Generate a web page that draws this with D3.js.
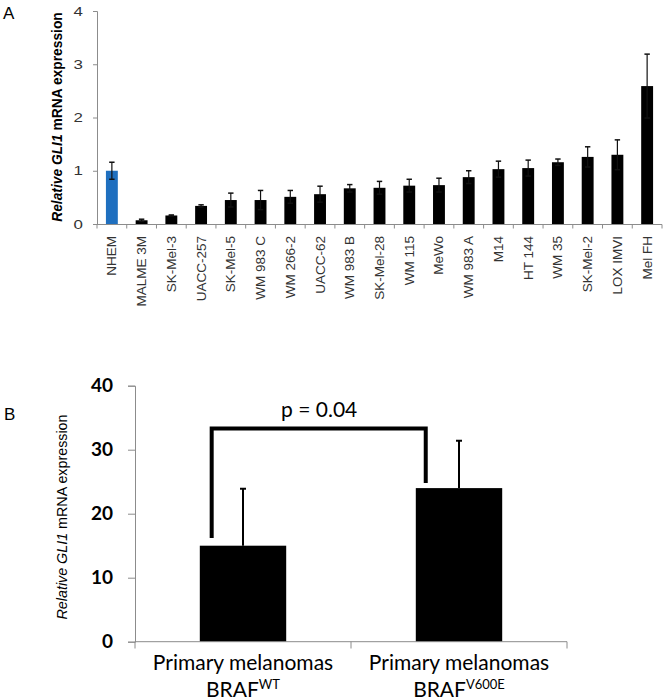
<!DOCTYPE html>
<html><head><meta charset="utf-8">
<script src="https://cdn.jsdelivr.net/npm/d3@7"></script>
<style>body{margin:0;background:#fff}svg{display:block}</style>
</head><body>
<svg id="chart" width="668" height="700"></svg>
<script>
// ---- Panel A data ----
const categoriesA = ["NHEM","MALME 3M","SK-Mel-3","UACC-257","SK-Mel-5","WM 983 C","WM 266-2","UACC-62","WM 983 B","SK-Mel-28","WM 115","MeWo","WM 983 A","M14","HT 144","WM 35","SK-Mel-2","LOX IMVI","Mel FH"];
const valuesA = [1.0,0.07,0.16,0.34,0.45,0.45,0.51,0.56,0.67,0.68,0.72,0.73,0.88,1.03,1.05,1.16,1.26,1.30,2.59];
const errorsA = [0.16,0.02,0.01,0.02,0.13,0.18,0.12,0.15,0.07,0.12,0.12,0.13,0.12,0.15,0.15,0.06,0.19,0.28,0.60];
const yTicksA = [0,1,2,3,4];

// ---- Panel B data ----
const categoriesB = ["WT","V600E"];
const valuesB = [15.0,24.0];
const errorsB = [8.9,7.4];
const yTicksB = [0,10,20,30,40];
const pValue = "p = 0.04";
const bracketB = {top:33.3, left:16.2, right:24.8};

const svg = d3.select("#chart");
const axisGray = "#8c8c8c";
const arial = "Liberation Sans, Arial, sans-serif";
const calibriLike = "Lato, 'Open Sans', sans-serif";

// ================= Panel A =================
const xA = d3.scaleBand().domain(categoriesA).range([97,662]).padding(0);
const yA = d3.scaleLinear().domain([0,4]).range([224,11]);
const gA = svg.append("g");
const barWA = xA.bandwidth()*0.4;
const cx = d => xA(d)+xA.bandwidth()/2;

gA.selectAll("rect.bar").data(categoriesA).enter().append("rect")
  .attr("x", d=>cx(d)-barWA/2)
  .attr("y", (d,i)=>yA(valuesA[i]))
  .attr("width", barWA)
  .attr("height", (d,i)=>yA(0)-yA(valuesA[i]))
  .attr("fill", (d,i)=> i===0 ? "#1f6fbf" : "#000");

const ebA = gA.selectAll("g.eb").data(categoriesA).enter().append("g");
ebA.append("line")
  .attr("x1", cx).attr("x2", cx)
  .attr("y1",(d,i)=>yA(valuesA[i]-errorsA[i])).attr("y2",(d,i)=>yA(valuesA[i]+errorsA[i]))
  .attr("stroke","#111").attr("stroke-width",1.2);
[1,-1].forEach(s=>{
  ebA.append("line")
    .attr("x1", d=>cx(d)-2.7).attr("x2", d=>cx(d)+2.7)
    .attr("y1",(d,i)=>yA(valuesA[i]+s*errorsA[i])).attr("y2",(d,i)=>yA(valuesA[i]+s*errorsA[i]))
    .attr("stroke","#111").attr("stroke-width",1.5);
});

// y axis A
const sxA = 1.3;
const yAxisA = gA.append("g").attr("transform","translate(97,0)")
  .call(d3.axisLeft(yA).tickValues(yTicksA).tickSize(4).tickPadding(10).tickFormat(d3.format("d")));
yAxisA.select(".domain").attr("stroke",axisGray);
yAxisA.selectAll(".tick line").attr("stroke",axisGray);
yAxisA.selectAll(".tick text").attr("font-family",arial).attr("font-size",13).attr("fill","#333")
  .attr("x",-14/sxA).attr("transform",`scale(${sxA},1)`);

// x axis A
gA.append("line").attr("x1",97).attr("x2",662).attr("y1",224.5).attr("y2",224.5).attr("stroke",axisGray);
const boundsA = categoriesA.map(d=>xA(d)).concat([xA.range()[1]]);
gA.selectAll("line.xt").data(boundsA).enter().append("line")
  .attr("x1",d=>d).attr("x2",d=>d).attr("y1",224.5).attr("y2",228.5).attr("stroke",axisGray);
gA.selectAll("text.xl").data(categoriesA).enter().append("text")
  .attr("transform", d=>`translate(${cx(d)+4.5},236) rotate(-90)`)
  .attr("text-anchor","end")
  .attr("font-family",arial).attr("font-size",13.5).attr("fill","#333")
  .text(d=>d);

// y title A
const tA = gA.append("text").attr("transform","translate(62,117) rotate(-90)")
  .attr("text-anchor","middle").attr("font-family",arial)
  .attr("font-size",13.8).attr("font-weight","bold").attr("fill","#000");
tA.append("tspan").attr("font-style","italic").text("Relative GLI1");
tA.append("tspan").text(" mRNA expression");

svg.append("text").attr("x",3).attr("y",19).attr("font-family",arial).attr("font-size",17).text("A");

// ================= Panel B =================
const xB = d3.scaleBand().domain(categoriesB).range([135,567]).padding(0);
const yB = d3.scaleLinear().domain([0,40]).range([641.7,385.7]);
const gB = svg.append("g");
const barWB = xB.bandwidth()*0.4;
const cxB = d => xB(d)+xB.bandwidth()/2;

gB.selectAll("rect.bar").data(categoriesB).enter().append("rect")
  .attr("x", d=>cxB(d)-barWB/2)
  .attr("y",(d,i)=>yB(valuesB[i]))
  .attr("width",barWB).attr("height",(d,i)=>yB(0)-yB(valuesB[i])).attr("fill","#000");

const ebB = gB.selectAll("g.eb").data(categoriesB).enter().append("g");
ebB.append("line")
  .attr("x1",cxB).attr("x2",cxB)
  .attr("y1",(d,i)=>yB(valuesB[i])).attr("y2",(d,i)=>yB(valuesB[i]+errorsB[i]))
  .attr("stroke","#000").attr("stroke-width",2);
ebB.append("line")
  .attr("x1",d=>cxB(d)-3).attr("x2",d=>cxB(d)+3)
  .attr("y1",(d,i)=>yB(valuesB[i]+errorsB[i])).attr("y2",(d,i)=>yB(valuesB[i]+errorsB[i]))
  .attr("stroke","#000").attr("stroke-width",2);

// y axis B
const yAxisB = gB.append("g").attr("transform","translate(135,0)")
  .call(d3.axisLeft(yB).tickValues(yTicksB).tickSize(7).tickPadding(15).tickFormat(d3.format("d")));
yAxisB.select(".domain").attr("stroke",axisGray);
yAxisB.selectAll(".tick line").attr("stroke",axisGray);
yAxisB.selectAll(".tick text").attr("font-family",calibriLike).attr("font-size",19).attr("font-weight","bold").attr("fill","#000");

// x axis B
gB.append("line").attr("x1",135).attr("x2",567).attr("y1",641.7).attr("y2",641.7).attr("stroke",axisGray);
const boundsB = categoriesB.map(d=>xB(d)).concat([xB.range()[1]]);
gB.selectAll("line.xt").data(boundsB).enter().append("line")
  .attr("x1",d=>d).attr("x2",d=>d).attr("y1",641.7).attr("y2",648.5).attr("stroke",axisGray);
const lblB = gB.selectAll("g.xl").data(categoriesB).enter().append("g")
  .attr("transform",d=>`translate(${cxB(d)},0)`);
lblB.append("text").attr("y",670).attr("text-anchor","middle")
  .attr("font-family",calibriLike).attr("font-size",21).attr("fill","#000")
  .text("Primary melanomas");
const l2 = lblB.append("text").attr("y",697).attr("text-anchor","middle")
  .attr("font-family",calibriLike).attr("font-size",21).attr("fill","#000");
l2.append("tspan").text("BRAF");
l2.append("tspan").attr("font-size",13).attr("dy",-8).text(d=>d);

// bracket
const bxL = xB(categoriesB[0]) + xB.bandwidth()*0.355;
const bxR = xB(categoriesB[1]) + xB.bandwidth()*0.346;
gB.append("path")
  .attr("d",`M${bxL},${yB(bracketB.left)}V${yB(bracketB.top)}H${bxR}V${yB(bracketB.right)}`)
  .attr("fill","none").attr("stroke","#000").attr("stroke-width",4);
gB.append("text").attr("x",(bxL+bxR)/2+0.5).attr("y",416.5).attr("text-anchor","middle")
  .attr("font-family",calibriLike).attr("font-size",21).attr("fill","#000").text(pValue);

// y title B
const tB = gB.append("text").attr("transform","translate(67,517) rotate(-90)")
  .attr("text-anchor","middle").attr("font-family",arial)
  .attr("font-size",14.3).attr("fill","#000");
tB.append("tspan").attr("font-style","italic").text("Relative GLI1");
tB.append("tspan").text(" mRNA expression");

svg.append("text").attr("x",4).attr("y",420).attr("font-family",arial).attr("font-size",17).text("B");
</script>
</body></html>
